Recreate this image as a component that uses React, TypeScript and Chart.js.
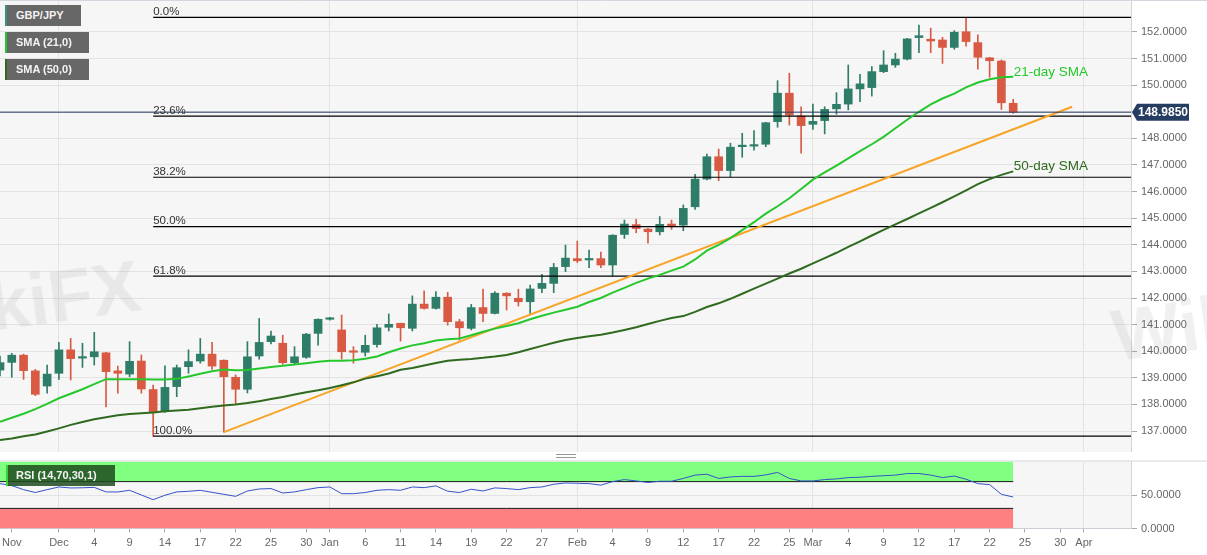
import React, { useEffect, useRef } from 'react';
import { Chart, registerables } from 'chart.js';

Chart.register(...registerables);

// ---------- data ----------
const dates: string[] = [
  '2020-11-24', '2020-11-25', '2020-11-26', '2020-11-27', '2020-11-30',
  '2020-12-01', '2020-12-02', '2020-12-03', '2020-12-04', '2020-12-07', '2020-12-08', '2020-12-09', '2020-12-10', '2020-12-11',
  '2020-12-14', '2020-12-15', '2020-12-16', '2020-12-17', '2020-12-18', '2020-12-21', '2020-12-22', '2020-12-23', '2020-12-24',
  '2020-12-25', '2020-12-28', '2020-12-29', '2020-12-30', '2020-12-31',
  '2021-01-01', '2021-01-04', '2021-01-05', '2021-01-06', '2021-01-07', '2021-01-08', '2021-01-11', '2021-01-12', '2021-01-13',
  '2021-01-14', '2021-01-15', '2021-01-18', '2021-01-19', '2021-01-20', '2021-01-21', '2021-01-22', '2021-01-25', '2021-01-26',
  '2021-01-27', '2021-01-28', '2021-01-29',
  '2021-02-01', '2021-02-02', '2021-02-03', '2021-02-04', '2021-02-05', '2021-02-08', '2021-02-09', '2021-02-10', '2021-02-11',
  '2021-02-12', '2021-02-15', '2021-02-16', '2021-02-17', '2021-02-18', '2021-02-19', '2021-02-22', '2021-02-23', '2021-02-24',
  '2021-02-25', '2021-02-26',
  '2021-03-01', '2021-03-02', '2021-03-03', '2021-03-04', '2021-03-05', '2021-03-08', '2021-03-09', '2021-03-10', '2021-03-11',
  '2021-03-12', '2021-03-15', '2021-03-16', '2021-03-17', '2021-03-18', '2021-03-19', '2021-03-22', '2021-03-23', '2021-03-24',
  '2021-03-25', '2021-03-26', '2021-03-29', '2021-03-30', '2021-03-31',
  '2021-04-01', '2021-04-02', '2021-04-05', '2021-04-06', '2021-04-07',
];

const opens = [
  139.29, 139.58, 139.85, 139.26, 138.69, 139.17, 140.05, 139.74, 139.79, 139.94,
  139.26, 139.14, 139.63, 138.56, 137.73, 138.67, 139.42, 139.63, 139.89, 139.66,
  139.02, 138.57, 139.82, 140.36, 140.30, 139.57, 139.77, 140.67, 141.20, 140.80,
  139.99, 139.96, 140.25, 140.90, 141.05, 140.86, 141.77, 141.61, 142.03, 141.11,
  140.86, 141.64, 141.42, 142.18, 141.99, 141.86, 142.36, 142.55, 143.18, 143.48,
  143.43, 143.48, 143.24, 144.39, 144.76, 144.59, 144.49, 144.78, 144.74, 145.43,
  146.47, 147.31, 146.79, 147.69, 147.71, 147.78, 148.63, 149.70, 148.84, 148.53,
  148.67, 149.11, 149.29, 149.86, 149.91, 150.51, 150.76, 150.98, 151.79, 151.73,
  151.70, 151.42, 152.01, 151.60, 151.03, 150.91, 149.32,
];
const highs = [
  139.82, 139.92, 139.89, 139.32, 139.48, 140.33, 140.48, 140.30, 140.71, 139.96,
  139.44, 140.36, 139.86, 138.73, 139.45, 139.48, 140.05, 140.48, 140.33, 139.68,
  139.11, 140.36, 141.23, 140.76, 140.60, 140.17, 140.67, 141.22, 141.27, 141.36,
  140.17, 140.60, 141.01, 141.40, 141.05, 142.08, 142.27, 142.24, 142.21, 141.20,
  141.76, 142.34, 142.24, 142.20, 142.33, 142.49, 142.89, 143.30, 143.99, 144.14,
  143.80, 143.73, 144.38, 144.93, 144.96, 144.62, 145.06, 144.93, 145.50, 146.65,
  147.41, 147.60, 147.82, 148.19, 148.29, 148.60, 150.17, 150.45, 149.19, 149.29,
  149.19, 149.72, 150.76, 150.41, 150.70, 151.30, 151.20, 151.76, 152.26, 152.14,
  151.80, 152.05, 152.55, 151.89, 151.05, 150.95, 149.47,
];
const lows = [
  139.07, 139.02, 138.94, 138.33, 138.42, 138.94, 138.92, 139.39, 139.48, 137.91,
  138.42, 139.04, 138.42, 136.81, 137.70, 138.29, 139.17, 139.55, 139.32, 136.96,
  138.02, 138.43, 139.70, 140.27, 139.51, 139.51, 139.73, 140.23, 141.17, 139.70,
  139.55, 139.82, 140.15, 140.76, 140.38, 140.76, 141.58, 141.58, 140.98, 140.42,
  140.80, 141.11, 141.40, 141.55, 141.70, 141.42, 142.20, 142.20, 142.99, 143.33,
  143.14, 143.14, 142.83, 144.24, 144.45, 144.06, 144.37, 144.58, 144.53, 145.33,
  146.44, 146.41, 146.56, 147.29, 147.56, 147.69, 148.42, 148.50, 147.44, 148.34,
  148.17, 148.91, 149.07, 149.38, 149.59, 150.47, 150.67, 150.95, 151.22, 151.22,
  150.82, 151.35, 151.47, 150.60, 150.30, 149.09, 148.94,
];
const closes = [
  139.57, 139.85, 139.27, 138.38, 139.14, 140.05, 139.72, 139.78, 139.98, 139.23,
  139.17, 139.62, 138.58, 137.69, 138.64, 139.38, 139.61, 139.89, 139.44, 139.04,
  138.57, 139.79, 140.33, 140.57, 139.57, 139.79, 140.64, 141.20, 141.22, 139.98,
  139.96, 140.22, 140.88, 141.01, 140.88, 141.77, 141.61, 142.03, 141.11, 140.88,
  141.64, 141.42, 142.18, 142.08, 141.86, 142.34, 142.55, 143.15, 143.50, 143.40,
  143.48, 143.24, 144.36, 144.78, 144.61, 144.49, 144.77, 144.71, 145.37, 146.47,
  147.31, 146.79, 147.67, 147.74, 147.76, 148.59, 149.70, 148.88, 148.48, 148.64,
  149.09, 149.28, 149.86, 150.05, 150.51, 150.76, 150.98, 151.74, 151.86, 151.66,
  151.42, 151.99, 151.64, 151.05, 150.92, 149.34, 148.985,
];
const sma21 = [
  137.35, 137.5, 137.65, 137.82, 138.02, 138.23, 138.4, 138.57, 138.76, 138.95,
  138.95, 138.95, 138.95, 138.94, 138.94, 138.96, 139.05, 139.15, 139.25, 139.31,
  139.28, 139.29, 139.35, 139.41, 139.45, 139.5, 139.55, 139.6, 139.64, 139.64,
  139.66, 139.72, 139.8, 139.96, 140.1, 140.22, 140.3, 140.4, 140.45, 140.48,
  140.6, 140.73, 140.85, 140.95, 141.05, 141.2, 141.33, 141.45, 141.56, 141.67,
  141.85, 142.0, 142.2, 142.38, 142.57, 142.73, 142.87, 143.03, 143.18, 143.45,
  143.78, 144.0, 144.25, 144.55, 144.85, 145.17, 145.45, 145.75, 146.1, 146.45,
  146.72, 146.98, 147.25, 147.52, 147.78, 148.06, 148.38, 148.7, 149.0, 149.28,
  149.5, 149.68, 149.92, 150.1, 150.22, 150.3, 150.32,
];
const sma50 = [
  136.66, 136.72, 136.8, 136.87, 136.98, 137.1, 137.23, 137.34, 137.44, 137.52,
  137.59, 137.64, 137.67, 137.7, 137.74, 137.77, 137.8, 137.86, 137.91, 137.96,
  138.0, 138.05, 138.12, 138.2, 138.28, 138.37, 138.46, 138.53, 138.62, 138.72,
  138.83, 138.97, 139.06, 139.16, 139.3, 139.37, 139.46, 139.56, 139.64, 139.68,
  139.71, 139.75, 139.8, 139.86, 139.96, 140.08, 140.2, 140.32, 140.42, 140.5,
  140.56, 140.62, 140.7, 140.8, 140.9, 141.02, 141.14, 141.25, 141.32, 141.48,
  141.66, 141.8, 141.97, 142.16, 142.35, 142.54, 142.73, 142.92, 143.1, 143.3,
  143.5, 143.7, 143.92, 144.13, 144.35, 144.56, 144.77, 144.97, 145.18, 145.39,
  145.6, 145.82, 146.05, 146.28, 146.47, 146.63, 146.76,
];
const rsi = [
  67, 64, 58, 53.7, 58, 62, 60.5, 60.8, 61.4, 54.6,
  54.5, 57, 50, 43, 49.6, 54.6, 55.5, 57, 54, 51,
  48, 56, 59, 59.6, 53, 54.6, 58, 61, 62, 52,
  52, 53.7, 57, 58, 57, 62, 61, 63.6, 55.6, 53.7,
  58.6, 56, 60.6, 59.6, 58, 61, 62, 66, 68, 67.5,
  67, 64.7, 70, 73, 71, 68.7, 70.5, 70.5, 74.7, 79.7,
  81, 74.7, 77, 77.8, 77.8, 80, 83.7, 74.7, 71, 71,
  73, 74, 76, 76.5, 77.8, 78.8, 79.7, 82, 82, 79.7,
  76, 78.3, 73.5, 67, 65.5, 51, 47,
];

const tickDates = [
  '2020-11-25', '2020-12-01', '2020-12-04', '2020-12-09', '2020-12-14', '2020-12-17', '2020-12-22', '2020-12-25',
  '2020-12-30', '2021-01-01', '2021-01-06', '2021-01-11', '2021-01-14', '2021-01-19', '2021-01-22', '2021-01-27',
  '2021-02-01', '2021-02-04', '2021-02-09', '2021-02-12', '2021-02-17', '2021-02-22', '2021-02-25', '2021-03-01',
  '2021-03-04', '2021-03-09', '2021-03-12', '2021-03-17', '2021-03-22', '2021-03-25', '2021-03-30', '2021-04-01',
];
const tickLabels = [
  'Nov', 'Dec', '4', '9', '14', '17', '22', '25', '30', 'Jan', '6', '11', '14', '19', '22', '27',
  'Feb', '4', '9', '12', '17', '22', '25', 'Mar', '4', '9', '12', '17', '22', '25', '30', 'Apr',
];
const monthStarts = ['2020-12-01', '2021-01-01', '2021-02-01', '2021-03-01', '2021-04-01'];
const priceTicks = [137, 138, 139, 140, 141, 142, 143, 144, 145, 146, 147, 148, 149, 150, 151, 152];
const rsiTicks = [0, 50];

const fibStart = '2020-12-11';
const fibLevels = [152.55, 148.84, 146.54, 144.68, 142.82, 136.81];
const fibLabels = ['0.0%', '23.6%', '38.2%', '50.0%', '61.8%', '100.0%'];

const trendDates = ['2020-12-21', '2021-03-31'];
const trendValues = [136.96, 149.19];

const lastPrice = 148.985;
const rsiUpper = 70;
const rsiLower = 30;
const rsiMax = 100;
const rsiMin = 0;

// ---------- styles ----------
const FONT = '"Liberation Sans", Arial, Helvetica, sans-serif';
const UP = '#2e7d68';
const DOWN = '#d85a43';
const SMA21_COLOR = '#26c72c';
const SMA50_COLOR = '#2f6a1f';
const TREND_COLOR = '#f7a428';
const PRICE_COLOR = '#253d60';
const PLOT_BG = '#f6f6f6';
const GRID = '#e3e3e3';

export default function App() {
  const mainRef = useRef<HTMLCanvasElement>(null);
  const rsiRef = useRef<HTMLCanvasElement>(null);

  useEffect(() => {
    document.body.style.margin = '0';
    document.body.style.background = '#ffffff';
    Chart.defaults.font.family = FONT;

    const firstDate = dates[0];
    const lastDate = dates[dates.length - 1];
    const lastCandleDate = dates[closes.length - 1];
    const candleColors = closes.map((c, i) => (c >= opens[i] ? UP : DOWN));

    const lineBase: any = { type: 'line', pointRadius: 0, pointHoverRadius: 0, tension: 0, fill: false, order: 0 };

    const bgPlugin = {
      id: 'plotBg',
      beforeDraw(chart: any) {
        const { ctx, chartArea: a } = chart;
        ctx.save();
        ctx.fillStyle = PLOT_BG;
        ctx.fillRect(a.left, a.top, a.right - a.left, a.bottom - a.top);
        ctx.strokeStyle = '#d6d6de';
        ctx.lineWidth = 1;
        ctx.beginPath();
        ctx.moveTo(0, a.top - 0.5);
        ctx.lineTo(chart.width, a.top - 0.5);
        ctx.stroke();
        ctx.restore();
      },
    };

    const mainDeco = {
      id: 'mainDeco',
      afterDatasetsDraw(chart: any) {
        const { ctx, scales } = chart;
        const xs = scales.x;
        const ys = scales.y;
        ctx.save();
        ctx.font = `11.5px ${FONT}`;
        ctx.fillStyle = '#333333';
        ctx.textAlign = 'left';
        ctx.textBaseline = 'alphabetic';
        const fx = xs.getPixelForValue(dates.indexOf(fibStart));
        fibLevels.forEach((lv, i) => {
          ctx.fillText(fibLabels[i], fx, ys.getPixelForValue(lv) - 2.5);
        });
        const m21 = chart.getDatasetMeta(1).data;
        const p21 = m21[m21.length - 1];
        const m50 = chart.getDatasetMeta(2).data;
        const p50 = m50[m50.length - 1];
        ctx.font = `13.5px ${FONT}`;
        ctx.fillStyle = SMA21_COLOR;
        ctx.fillText('21-day SMA', p21.x + 0.5, p21.y - 1);
        ctx.fillStyle = SMA50_COLOR;
        ctx.fillText('50-day SMA', p50.x + 0.5, p50.y - 1);
        ctx.restore();
      },
      afterDraw(chart: any) {
        const { ctx, scales, chartArea } = chart;
        const y = scales.y.getPixelForValue(lastPrice);
        const x0 = chartArea.right + 1;
        ctx.save();
        ctx.fillStyle = PRICE_COLOR;
        ctx.beginPath();
        ctx.moveTo(x0, y);
        ctx.lineTo(x0 + 5, y - 8.5);
        ctx.lineTo(x0 + 57, y - 8.5);
        ctx.lineTo(x0 + 57, y + 8.5);
        ctx.lineTo(x0 + 5, y + 8.5);
        ctx.closePath();
        ctx.fill();
        ctx.fillStyle = '#ffffff';
        ctx.font = `bold 12px ${FONT}`;
        ctx.textAlign = 'center';
        ctx.textBaseline = 'middle';
        ctx.fillText(lastPrice.toFixed(4), x0 + 31, y + 0.5);
        ctx.restore();
      },
    };

    const zeroPad = (s: any) => {
      s.paddingTop = 0;
      s.paddingBottom = 0;
      s.paddingLeft = 0;
      s.paddingRight = 0;
    };

    const mainChart = new Chart(mainRef.current as HTMLCanvasElement, {
      type: 'bar',
      data: {
        labels: dates,
        datasets: [
          { ...lineBase, label: 'last', data: [{ x: firstDate, y: lastPrice }, { x: lastDate, y: lastPrice }], borderColor: PRICE_COLOR, borderWidth: 1 },
          { ...lineBase, label: 'SMA (21,0)', data: sma21, borderColor: SMA21_COLOR, borderWidth: 2 },
          { ...lineBase, label: 'SMA (50,0)', data: sma50, borderColor: SMA50_COLOR, borderWidth: 2 },
          { ...lineBase, label: 'trend', data: trendDates.map((d, i) => ({ x: d, y: trendValues[i] })), borderColor: TREND_COLOR, borderWidth: 2 },
          ...fibLevels.map((lv, i) => ({
            ...lineBase,
            label: fibLabels[i],
            data: [{ x: fibStart, y: lv }, { x: lastDate, y: lv }],
            borderColor: '#000000',
            borderWidth: 1.2,
          })),
          {
            type: 'bar', label: 'body', data: opens.map((o, i) => [o, closes[i]]),
            backgroundColor: candleColors, barThickness: 8, minBarLength: 1.5, grouped: false, order: 1, borderWidth: 0,
          },
          {
            type: 'bar', label: 'wick', data: lows.map((l, i) => [l, highs[i]]),
            backgroundColor: candleColors, barThickness: 1, grouped: false, order: 2, borderWidth: 0,
          },
        ],
      } as any,
      options: {
        responsive: false,
        animation: false,
        events: [],
        layout: { padding: { top: 1, left: 0, right: 0, bottom: 0 } },
        plugins: { legend: { display: false }, tooltip: { enabled: false } },
        scales: {
          x: {
            type: 'category',
            offset: false,
            grid: { offset: false, color: GRID, drawTicks: false },
            ticks: { display: false },
            border: { display: true, color: '#cdcdd5' },
            afterBuildTicks: (s: any) => { s.ticks = s.ticks.filter((t: any) => monthStarts.includes(dates[t.value])); },
            afterFit: (s: any) => { s.height = 0; zeroPad(s); },
          },
          y: {
            type: 'linear',
            position: 'right',
            min: 136.211,
            max: 153.165,
            afterBuildTicks: (s: any) => { s.ticks = priceTicks.map((v) => ({ value: v })); },
            ticks: {
              color: '#666666',
              font: { size: 11, family: FONT },
              padding: 4,
              callback: (v: any) => (Number(v) === 149 ? '' : Number(v).toFixed(4)),
            },
            grid: { color: GRID, tickLength: 6, tickColor: '#aaaaaa' },
            border: { display: true, color: '#d4d4d4' },
            afterFit: (s: any) => { s.width = 76; zeroPad(s); },
          },
        },
      } as any,
      plugins: [bgPlugin, mainDeco],
    });

    const rsiChart = new Chart(rsiRef.current as HTMLCanvasElement, {
      type: 'line',
      data: {
        labels: dates,
        datasets: [
          { label: 'RSI (14,70,30,1)', data: rsi, borderColor: '#3553c9', borderWidth: 1, pointRadius: 0, tension: 0, fill: false, order: 0 },
          {
            label: 'overbought', data: [{ x: firstDate, y: rsiUpper }, { x: lastCandleDate, y: rsiUpper }],
            borderColor: '#1a1a1a', borderWidth: 1, pointRadius: 0, fill: { value: rsiMax }, backgroundColor: '#80ff80', order: 1,
          },
          {
            label: 'oversold', data: [{ x: firstDate, y: rsiLower }, { x: lastCandleDate, y: rsiLower }],
            borderColor: '#1a1a1a', borderWidth: 1, pointRadius: 0, fill: { value: rsiMin }, backgroundColor: '#ff8080', order: 1,
          },
        ],
      } as any,
      options: {
        responsive: false,
        animation: false,
        events: [],
        layout: { padding: { top: 1.5, left: 0, right: 0, bottom: 0 } },
        plugins: { legend: { display: false }, tooltip: { enabled: false } },
        scales: {
          x: {
            type: 'category',
            offset: false,
            grid: {
              offset: false,
              color: (c: any) => (c.tick && monthStarts.includes(dates[c.tick.value]) ? GRID : 'rgba(0,0,0,0)'),
              tickColor: '#aaaaaa',
              tickLength: 4,
            },
            ticks: {
              autoSkip: false,
              maxRotation: 0,
              color: '#666666',
              font: { size: 11, family: FONT },
              padding: 4,
              callback: (v: any) => tickLabels[tickDates.indexOf(dates[Number(v)])] ?? '',
            },
            border: { display: true, color: '#cdcdd5' },
            afterBuildTicks: (s: any) => { s.ticks = s.ticks.filter((t: any) => tickDates.includes(dates[t.value])); },
            afterFit: (s: any) => { s.height = 26.5; zeroPad(s); },
          },
          y: {
            type: 'linear',
            position: 'right',
            min: rsiMin,
            max: rsiMax,
            afterBuildTicks: (s: any) => { s.ticks = rsiTicks.map((v) => ({ value: v })); },
            ticks: {
              color: '#666666',
              font: { size: 11, family: FONT },
              padding: 4,
              callback: (v: any) => Number(v).toFixed(4),
            },
            grid: { color: GRID, tickLength: 6, tickColor: '#aaaaaa' },
            border: { display: true, color: '#d4d4d4' },
            afterFit: (s: any) => { s.width = 76; zeroPad(s); },
          },
        },
      } as any,
      plugins: [bgPlugin],
    });

    return () => {
      mainChart.destroy();
      rsiChart.destroy();
    };
  }, []);

  const legendBox = (top: number, width: number, stripe: string): React.CSSProperties => ({
    position: 'absolute',
    left: 5,
    top,
    width,
    height: 21,
    boxSizing: 'border-box',
    background: '#676767',
    borderLeft: `2px solid ${stripe}`,
    color: '#f4f4f4',
    font: `bold 11px ${FONT}`,
    lineHeight: '21px',
    paddingLeft: 9,
    whiteSpace: 'nowrap',
  });

  const watermark = (left: number, top: number, rotate: number): React.CSSProperties => ({
    position: 'absolute',
    left,
    top,
    font: `bold 72px ${FONT}`,
    color: 'rgba(150,140,140,0.13)',
    transform: `rotate(${rotate}deg)`,
    transformOrigin: 'left bottom',
    whiteSpace: 'nowrap',
    pointerEvents: 'none',
    lineHeight: '80px',
  });

  return (
    <div style={{ position: 'relative', width: 1207, height: 555, overflow: 'hidden', background: '#ffffff', fontFamily: FONT }}>
      <canvas ref={mainRef} width={1207} height={452} style={{ position: 'absolute', left: 0, top: 0, width: 1207, height: 452 }} />
      <canvas ref={rsiRef} width={1207} height={95} style={{ position: 'absolute', left: 0, top: 460, width: 1207, height: 95 }} />
      <div style={watermark(-92, 278, -8)}>WikiFX</div>
      <div style={watermark(1118, 296, -8)}>WikiFX</div>
      <div style={legendBox(5, 76, '#3e8e7e')}>GBP/JPY</div>
      <div style={legendBox(32, 84, SMA21_COLOR)}>SMA (21,0)</div>
      <div style={legendBox(59, 84, SMA50_COLOR)}>SMA (50,0)</div>
      <div
        style={{
          position: 'absolute', left: 6, top: 465, width: 109, height: 21, boxSizing: 'border-box',
          background: 'rgba(30,75,30,0.85)', borderLeft: '2px solid #3bd13b', color: '#f4f4f4',
          font: `bold 11px ${FONT}`, lineHeight: '21px', paddingLeft: 8, whiteSpace: 'nowrap',
        }}
      >
        RSI (14,70,30,1)
      </div>
      <div
        style={{
          position: 'absolute', left: 556, top: 453.5, width: 20, height: 2,
          borderTop: '1px solid #9a9a9a', borderBottom: '1px solid #9a9a9a',
        }}
      />
    </div>
  );
}
